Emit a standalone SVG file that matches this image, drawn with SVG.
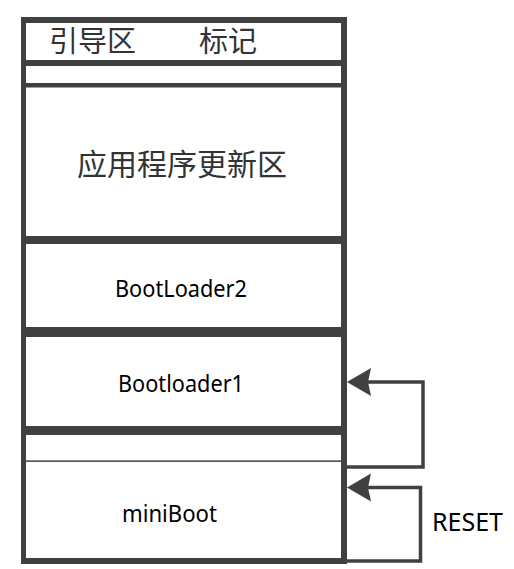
<svg xmlns="http://www.w3.org/2000/svg" width="514" height="569" viewBox="0 0 514 569">
<style>
  .bar { fill: #404040; }
  .wire { fill: none; stroke: #404040; stroke-width: 3.5; stroke-linejoin: miter; }
  .cjk { font-family: "Noto Sans CJK SC", "Noto Sans", sans-serif; fill: #333; }
  .lat { font-family: "Noto Sans", "Liberation Sans", sans-serif; fill: #000; }
</style>
<defs>
  <marker id="ah" markerUnits="userSpaceOnUse" markerWidth="26" markerHeight="30" viewBox="0 -15 26 30" refX="5" refY="0" orient="auto" overflow="visible">
    <path d="M0,-14 L24,0 L0,14 L3,0 Z" fill="#404040"/>
  </marker>
</defs>
<rect width="514" height="569" fill="#fff"/>

<g id="frame">
  <rect class="bar" x="21" y="17" width="326" height="6"/>
  <rect class="bar" x="21" y="558" width="326" height="6"/>
  <rect class="bar" x="21" y="17" width="5" height="547"/>
  <rect class="bar" x="341" y="17" width="6" height="547"/>
</g>

<g id="node-bootarea">
  <text class="cjk" x="49" y="52" font-size="29">引导区</text>
  <text class="cjk" x="199" y="52" font-size="29">标记</text>
  <rect class="bar" x="21" y="60" width="326" height="6"/>
</g>

<g id="node-gap1">
  <rect class="bar" x="21" y="83" width="326" height="4.5"/>
</g>

<g id="node-app-update">
  <text class="cjk" x="77" y="175" font-size="30">应用程序更新区</text>
  <rect class="bar" x="21" y="236" width="326" height="8"/>
</g>

<g id="node-bootloader2">
  <text class="lat" x="115" y="297" font-size="24" textLength="132" lengthAdjust="spacingAndGlyphs">BootLoader2</text>
  <rect class="bar" x="21" y="327" width="326" height="10"/>
</g>

<g id="node-bootloader1">
  <text class="lat" x="118" y="392" font-size="24" textLength="126" lengthAdjust="spacingAndGlyphs">Bootloader1</text>
  <rect class="bar" x="21" y="426" width="326" height="9"/>
</g>

<g id="node-gap2">
  <rect x="26" y="460.5" width="315" height="1.2" fill="#111"/>
</g>

<g id="node-miniboot">
  <text class="lat" x="122" y="522" font-size="23" textLength="95" lengthAdjust="spacingAndGlyphs">miniBoot</text>
</g>

<g id="connectors">
  <path class="wire" d="M346,467 L423,467 L423,382 L366,382" marker-end="url(#ah)"/>
  <path class="wire" d="M346,561 L420.5,561 L420.5,487.5 L366,487.5" marker-end="url(#ah)"/>
  <text class="lat" x="432" y="531" font-size="26" textLength="71" lengthAdjust="spacingAndGlyphs">RESET</text>
</g>
</svg>
